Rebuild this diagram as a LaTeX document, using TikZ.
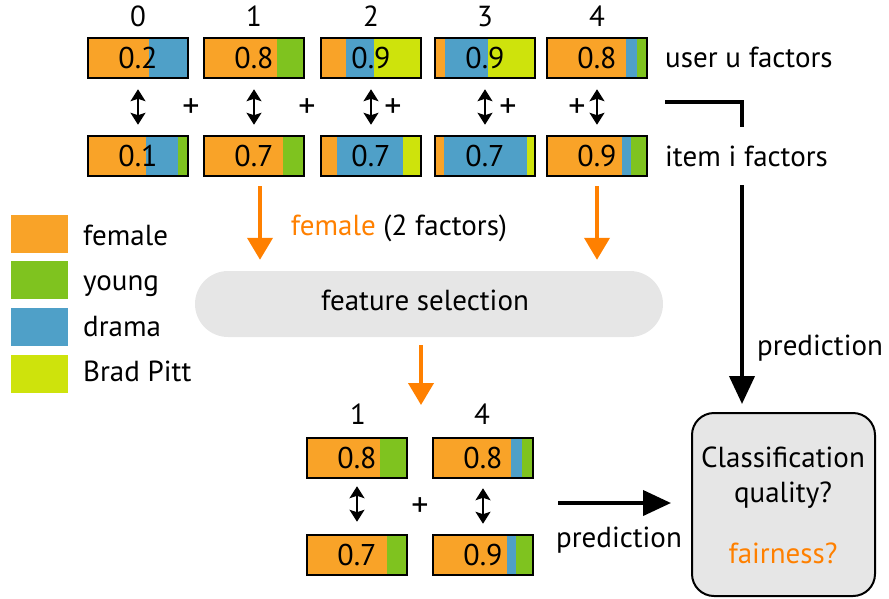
\documentclass[tikz,border=0pt]{standalone}
\usepackage{fontspec}
\setmainfont{PT Sans}
\usetikzlibrary{arrows.meta}
\definecolor{cfem}{HTML}{F9A328}
\definecolor{cyoung}{HTML}{7FC31F}
\definecolor{cdrama}{HTML}{4FA0C8}
\definecolor{cbrad}{HTML}{CEE30C}
\definecolor{corange}{HTML}{FF8000}
\definecolor{cgray}{HTML}{E6E6E6}
\newcommand\facbar[6]{%
  \foreach \cc/\aa/\bb in {#5} {\fill[\cc] (\aa,#3) rectangle (\bb,#3+40);}
  \node[barbox, minimum width={#4-#2}] (#1) at ({(#2+#4)/2},#3+20) {#6};
}
\tikzset{
  txt/.style={font=\fontsize{29}{34}\selectfont, inner sep=0pt},
  plussign/.style={font=\fontsize{34}{38}\selectfont, inner sep=0pt},
  barbox/.style={draw, line width=2.5pt, minimum height=40pt, inner sep=0pt, font=\fontsize{30}{34}\selectfont},
  swatch/.style={minimum width=57pt, minimum height=38pt, inner sep=0pt},
  dbl/.style={line width=1.8pt, {Stealth[length=12pt,width=15pt,inset=2.5pt]}-{Stealth[length=12pt,width=15pt,inset=2.5pt]}},
  oarrow/.style={draw=corange, line width=4pt, -{Triangle[length=22pt,width=25pt]}, corange},
  barrow/.style={draw=black, line width=4pt, -{Triangle[length=28pt,width=25pt]}},
  bline/.style={draw=black, line width=4pt},
}
\begin{document}
\begin{tikzpicture}[x=1pt,y=-1pt]
\useasboundingbox (0,0) rectangle (889,598);

% index labels
\node[txt, anchor=base] (n0) at (138,26) {0};
\node[txt, anchor=base] (n1) at (254,26) {1};
\node[txt, anchor=base] (n2) at (371,26) {2};
\node[txt, anchor=base] (n3) at (485,26) {3};
\node[txt, anchor=base] (n4) at (597,26) {4};

% user row
\facbar{u0}{88}{38}{188}{cfem/88/149, cdrama/149/188}{0.2}
\facbar{u1}{204}{38}{304}{cfem/204/277, cyoung/277/304}{0.8}
\facbar{u2}{321}{38}{421}{cfem/321/346, cdrama/346/374, cbrad/374/421}{0.9}
\facbar{u3}{435}{38}{535}{cfem/435/445, cdrama/445/488, cbrad/488/535}{0.9}
\facbar{u4}{547}{38}{647}{cfem/547/626, cdrama/626/637, cyoung/637/647}{0.8}

% item row
\facbar{i0}{88}{136}{188}{cfem/88/146, cdrama/146/178, cyoung/178/188}{0.1}
\facbar{i1}{204}{136}{304}{cfem/204/283, cyoung/283/304}{0.7}
\facbar{i2}{321}{136}{421}{cfem/321/337, cdrama/337/403, cbrad/403/421}{0.7}
\facbar{i3}{435}{136}{535}{cfem/435/444, cdrama/444/527, cbrad/527/535}{0.7}
\facbar{i4}{547}{136}{647}{cfem/547/622, cdrama/622/631, cyoung/631/647}{0.9}

% double arrows
\foreach \k in {0,...,4} {\draw[dbl, shorten <=10pt, shorten >=10pt] (u\k) -- (i\k);}

% plus signs
\node[plussign] (p1) at (191,108) {+};
\node[plussign] (p2) at (307,108) {+};
\node[plussign] (p3) at (393,108) {+};
\node[plussign] (p4) at (508,108) {+};
\node[plussign] (p5) at (577,108) {+};

% row labels
\node[txt, anchor=base west] (ulab) at (665,67) {user u factors};
\node[txt, anchor=base west] (ilab) at (665,166) {item i factors};

% legend
\node[swatch, fill=cfem] (sfem) at (39.5,234) {};
\node[swatch, fill=cyoung] (syoung) at (39.5,280) {};
\node[swatch, fill=cdrama] (sdrama) at (39.5,326.5) {};
\node[swatch, fill=cbrad] (sbrad) at (39.5,373.5) {};
\node[txt, anchor=base west] (tfem) at (83,245) {female};
\node[txt, anchor=base west] (tyoung) at (83,290) {young};
\node[txt, anchor=base west] (tdrama) at (83,336) {drama};
\node[txt, anchor=base west] (tbrad) at (83,381) {Brad Pitt};

% feature selection
\node[fill=cgray, rounded corners=33pt, minimum width=468pt, minimum height=66pt, inner sep=0pt] (fs) at (429,304) {};
\node[txt, anchor=base] (fstext) at (425,310) {feature selection};
\node[txt, anchor=base] (femlab) at (399,235) {\textcolor{corange}{female} (2 factors)};
\draw[oarrow, shorten <=9pt, shorten >=11pt] ([xshift=6pt]i1.south) -- ([xshift=6pt]i1.south |- fs.north);
\draw[oarrow, shorten <=9pt, shorten >=11pt] (i4.south) -- (i4.south |- fs.north);

% selected factors
\node[txt, anchor=base] (m1) at (358,424) {1};
\node[txt, anchor=base] (m4) at (482,424) {4};
\facbar{b1u}{307}{438}{407}{cfem/307/380, cyoung/380/407}{0.8}
\facbar{b4u}{433}{438}{533}{cfem/433/511, cdrama/511/522, cyoung/522/533}{0.8}
\facbar{b1i}{307}{535}{407}{cfem/307/387, cyoung/387/407}{0.7}
\facbar{b4i}{433}{535}{533}{cfem/433/507, cdrama/507/516, cyoung/516/533}{0.9}
\draw[dbl, shorten <=7pt, shorten >=12pt] (b1u) -- (b1i);
\draw[dbl, shorten <=9pt, shorten >=10pt] (b4u) -- (b4i);
\node[plussign] (pb) at (420,507) {+};
\coordinate (seltip) at (421,405);
\draw[oarrow, shorten <=8pt] ([xshift=-8pt]fs.south) -- (seltip);

% classification box
\node[draw, line width=2pt, fill=cgray, rounded corners=22pt, minimum width=183pt, minimum height=183pt, inner sep=0pt] (cq) at (783.5,504.5) {};
\node[txt, anchor=base] (cq1) at (783,467) {Classification};
\node[txt, anchor=base] (cq2) at (783,502) {quality?};
\node[txt, anchor=base, text=corange] (cq3) at (783,563) {fairness?};

% prediction from full model
\coordinate (lstart) at (665,102);
\coordinate (lcorner) at (742,102);
\coordinate (lend) at (742,127);
\coordinate (astart) at (742,185);
\draw[bline] (lstart) -- (lcorner) -- (lend);
\draw[barrow, shorten >=8pt] (astart) -- (astart |- cq.north);
\node[txt, anchor=base west] (pred1) at (757,355) {prediction};

% prediction from selected
\coordinate (hstart) at (558,503);
\draw[barrow, shorten >=20pt] (hstart) -- (hstart -| cq.west);
\node[txt, anchor=base] (pred2) at (619,547) {prediction};
\end{tikzpicture}
\end{document}
